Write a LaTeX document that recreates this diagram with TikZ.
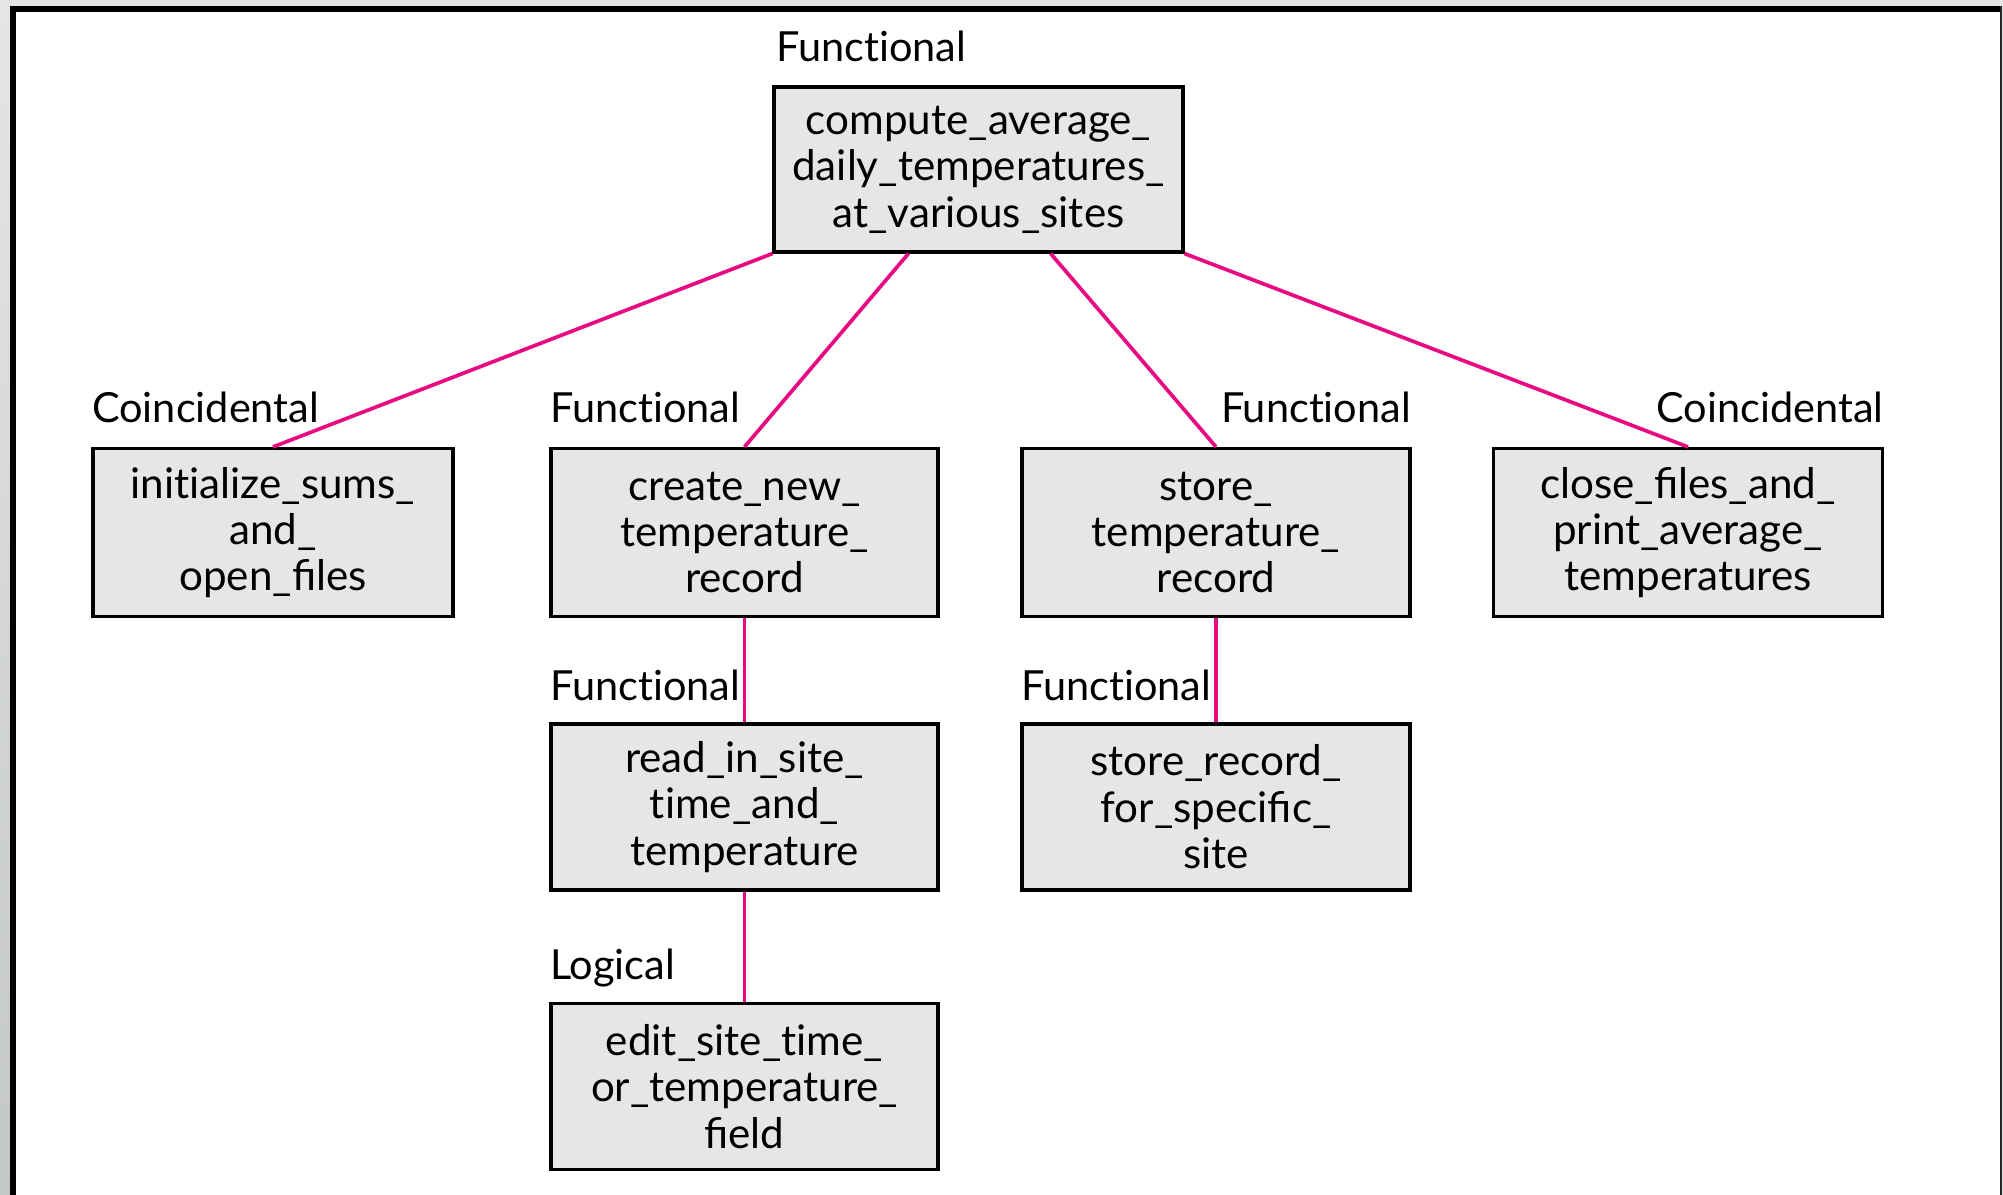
\documentclass[tikz,border=0pt]{standalone}
\usepackage{fontspec}
\setmainfont{Lato}
\usetikzlibrary{calc}
\newcommand\tI{t\kern0pt i}
\definecolor{pinkline}{RGB}{232,10,130}
\definecolor{boxfill}{RGB}{230,230,230}
\definecolor{outgray}{RGB}{228,229,230}
\definecolor{outgraydark}{RGB}{196,199,200}
\tikzset{
  modbox/.style={draw=black, line width=0.9pt, fill=boxfill, minimum width=#1, minimum height=1.66cm,
    inner sep=0pt, align=center, font=\fontsize{12}{13.2}\selectfont},
  modbox/.default=3.88cm,
  cohlabel/.style={inner sep=0pt, font=\fontsize{11.8}{13}\selectfont},
  link/.style={draw=pinkline, line width=1.05pt}
}
\begin{document}
\begin{tikzpicture}
\useasboundingbox (0,0) rectangle (20.03,11.95);
% surrounding frame
\fill[outgray] (0,0) rectangle (20.03,11.95);
\shade[top color=outgray, bottom color=outgraydark] (0,0) rectangle (0.10,11.89);
\fill[white] (0.10,0) rectangle (20.01,11.89);
\fill[black] (0.10,0) rectangle (0.16,11.89);
\fill[black] (0.10,11.83) rectangle (20.01,11.89);
\fill[black!85] (19.995,0) rectangle (20.015,11.89);

% boxes
\node[modbox=4.09cm, minimum height=1.65cm] (top) at (9.785,10.255) {compute\_average\_\\daily\_temperatures\_\\at\_various\_sites};
\node[modbox=3.60cm, minimum height=1.68cm] (b1) at (2.73,6.625) {ini\tI alize\_sums\_\\and\_\\open\_files};
\node[modbox=3.87cm, minimum height=1.68cm] (b2) at (7.445,6.625) {create\_new\_\\temperature\_\\record};
\node[modbox=3.88cm, minimum height=1.68cm] (b3) at (12.16,6.625) {store\_\\temperature\_\\record};
\node[modbox=3.89cm, minimum height=1.68cm] (b4) at (16.88,6.625) {close\_files\_and\_\\print\_average\_\\temperatures};
\node[modbox=3.87cm] (b5) at (7.445,3.88) {read\_in\_site\_\\\tI me\_and\_\\temperature};
\node[modbox=3.88cm] (b6) at (12.16,3.88) {store\_record\_\\for\_specific\_\\site};
\node[modbox=3.87cm] (b7) at (7.445,1.085) {edit\_site\_\tI me\_\\or\_temperature\_\\field};

% cohesion labels
\node[cohlabel, anchor=base west] (l0) at ($(top.north west)+(0.03,0.24)$) {Func\tI onal};
\node[cohlabel, anchor=base west] (l1) at ($(b1.north west)+(0,0.24)$) {Coincidental};
\node[cohlabel, anchor=base west] (l2) at ($(b2.north west)+(0,0.24)$) {Func\tI onal};
\node[cohlabel, anchor=base east] (l3) at ($(b3.north east)+(0,0.24)$) {Func\tI onal};
\node[cohlabel, anchor=base east] (l4) at ($(b4.north east)+(0,0.24)$) {Coincidental};
\node[cohlabel, anchor=base west] (l5) at ($(b5.north west)+(0,0.22)$) {Func\tI onal};
\node[cohlabel, anchor=base west] (l6) at ($(b6.north west)+(0,0.22)$) {Func\tI onal};
\node[cohlabel, anchor=base west] (l7) at ($(b7.north west)+(0,0.22)$) {Logical};

% connectors
\draw[link] (top.south west) -- (b1.north);
\draw[link] ($(top.south west)!0.33!(top.south east)$) -- (b2.north);
\draw[link] ($(top.south west)!0.675!(top.south east)$) -- (b3.north);
\draw[link] (top.south east) -- (b4.north);
\draw[link] (b2.south) -- (b5.north);
\draw[link] (b5.south) -- (b7.north);
\draw[link] (b3.south) -- (b6.north);
\end{tikzpicture}
\end{document}
